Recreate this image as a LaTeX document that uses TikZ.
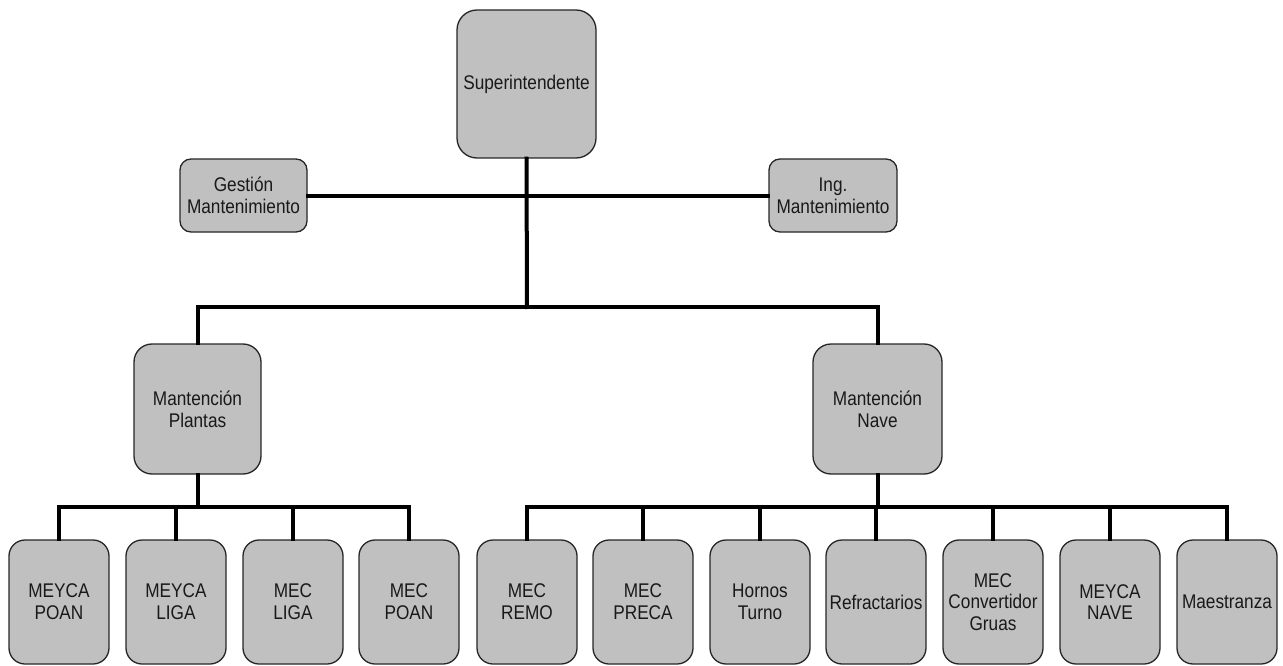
\documentclass[tikz,border=0pt]{standalone}
\usepackage{fontspec}
\setmainfont{Liberation Sans}[FakeStretch=0.87]
\begin{document}
\begin{tikzpicture}[x=1pt,y=-1pt,
  unit/.style={draw=black!85, line width=1.3pt, fill=boxgray, rounded corners=14pt,
    align=center, inner sep=0pt, text=black!90,
    font=\fontsize{19.8}{21.7}\selectfont},
  leaf/.style={unit, minimum width=100pt, minimum height=124pt, rounded corners=16pt},
  link/.style={line width=4pt, line join=miter, line cap=rect}]
\definecolor{boxgray}{HTML}{C0C0C0}
\useasboundingbox (0,0) rectangle (1283,666);

% top level and staff units
\node[unit, minimum width=139pt, minimum height=148pt, rounded corners=20pt] (sup) at (526.5,84) {Superintendente};
\node[unit, minimum width=127pt, minimum height=73pt, rounded corners=11pt] (gest) at (243.5,195.5) {Gestión\\Mantenimiento};
\node[unit, minimum width=128pt, minimum height=73pt, rounded corners=11pt] (ing) at (833,195.5) {Ing.\\Mantenimiento};

% second level
\node[unit, minimum width=127pt, minimum height=130pt, rounded corners=18pt] (mp) at (197.5,409) {Mantención\\Plantas};
\node[unit, minimum width=129pt, minimum height=130pt, rounded corners=18pt] (mn) at (877.5,409) {Mantención\\Nave};

% workshops
\node[leaf] (b1) at (59,602) {MEYCA\\POAN};
\node[leaf] (b2) at (176,602) {MEYCA\\LIGA};
\node[leaf] (b3) at (293,602) {MEC\\LIGA};
\node[leaf] (b4) at (409,602) {MEC\\POAN};
\node[leaf] (b5) at (527,602) {MEC\\REMO};
\node[leaf] (b6) at (643,602) {MEC\\PRECA};
\node[leaf] (b7) at (760,602) {Hornos\\Turno};
\node[leaf] (b8) at (876,602) {Refractarios};
\node[leaf] (b9) at (993,602) {MEC\\Convertidor\\Gruas};
\node[leaf] (b10) at (1110,602) {MEYCA\\NAVE};
\node[leaf] (b11) at (1227,602) {Maestranza};

% junction points of the buses
\coordinate (j1) at (527,307);
\coordinate (jp) at (197.5,507);
\coordinate (jn) at (877.5,507);

\draw[link] (gest.east) -- (ing.west);
\draw[link] (sup.south) -- (j1);
\draw[link] (mp.north) |- (j1) -| (mn.north);
\draw[link] (mp.south) -- (jp);
\draw[link] (mn.south) -- (jn);
\foreach \b in {b1,b2,b3,b4} \draw[link] (\b.north) |- (jp);
\foreach \b in {b5,b6,b7,b8,b9,b10,b11} \draw[link] (\b.north) |- (jn);
\end{tikzpicture}
\end{document}
